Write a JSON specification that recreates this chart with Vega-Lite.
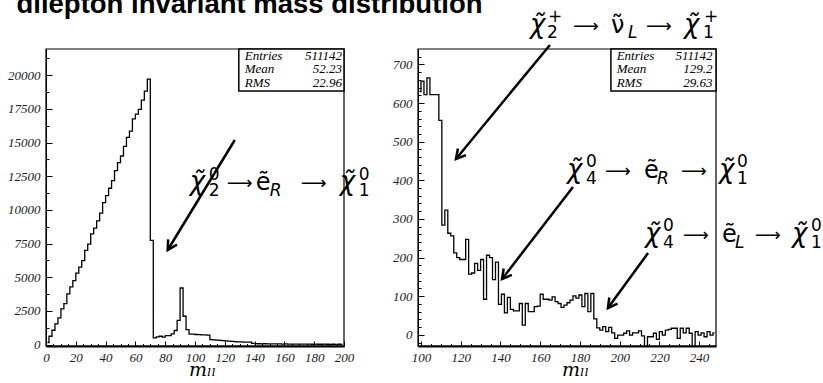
{
  "$schema": "https://vega.github.io/schema/vega-lite/v6.json",
  "autosize": {"type": "none"},
  "padding": {"left": 46, "top": 49, "right": 107, "bottom": 37},
  "width": 670,
  "height": 297,
  "background": "white",
  "config": {
    "view": {"stroke": null},
    "axis": {"grid": false, "labelFont": "Liberation Serif", "labelFontStyle": "italic", "labelFontSize": 13, "labelColor": "#222", "domainColor": "#000", "tickColor": "#000", "labelFlush": false, "labelOverlap": false},
    "style": {
      "chi": {"font": "DejaVu Sans", "fontSize": 26, "fontStyle": "italic", "fill": "#0000ff", "align": "left", "baseline": "alphabetic"},
      "big": {"font": "DejaVu Sans", "fontSize": 24, "fill": "#0000ff", "align": "left", "baseline": "alphabetic"},
      "arr": {"font": "DejaVu Sans", "fontSize": 18, "fill": "#0000ff", "align": "left", "baseline": "alphabetic"},
      "small": {"font": "DejaVu Sans", "fontSize": 17, "fill": "#0000ff", "align": "left", "baseline": "alphabetic"}
    }
  },
  "datasets": {
    "left": [
      {"m":1,"n":150},{"m":3,"n":615},{"m":5,"n":1060},{"m":7,"n":1530},{"m":9,"n":1975},{"m":11,"n":2645},{"m":13,"n":3040},{"m":15,"n":3755},{"m":17,"n":4275},{"m":19,"n":4740},
      {"m":21,"n":5310},{"m":23,"n":5755},{"m":25,"n":6225},{"m":27,"n":6990},{"m":29,"n":7460},{"m":31,"n":8225},{"m":33,"n":8645},{"m":35,"n":9190},{"m":37,"n":9760},{"m":39,"n":10545},
      {"m":41,"n":11065},{"m":43,"n":11610},{"m":45,"n":12175},{"m":47,"n":12915},{"m":49,"n":13510},{"m":51,"n":14005},{"m":53,"n":14725},{"m":55,"n":15390},{"m":57,"n":15855},{"m":59,"n":16770},
      {"m":61,"n":17115},{"m":63,"n":17465},{"m":65,"n":18155},{"m":67,"n":18820},{"m":69,"n":19710},{"m":71,"n":7730},{"m":73,"n":495},{"m":75,"n":570},{"m":77,"n":615},{"m":79,"n":545},
      {"m":81,"n":665},{"m":83,"n":665},{"m":85,"n":790},{"m":87,"n":1040},{"m":89,"n":1800},{"m":91,"n":4200},{"m":93,"n":2100},{"m":95,"n":1110},{"m":97,"n":765},{"m":99,"n":765},
      {"m":101,"n":745},{"m":103,"n":740},{"m":105,"n":720},{"m":107,"n":715},{"m":109,"n":690},{"m":111,"n":370},{"m":113,"n":340},{"m":115,"n":320},{"m":117,"n":300},{"m":119,"n":285},
      {"m":121,"n":265},{"m":123,"n":250},{"m":125,"n":235},{"m":127,"n":215},{"m":129,"n":200},{"m":131,"n":190},{"m":133,"n":180},{"m":135,"n":175},{"m":137,"n":170},{"m":139,"n":90},
      {"m":141,"n":60},{"m":143,"n":55},{"m":145,"n":50},{"m":147,"n":55},{"m":149,"n":45},{"m":151,"n":50},{"m":153,"n":40},{"m":155,"n":45},{"m":157,"n":40},{"m":159,"n":35},
      {"m":161,"n":40},{"m":163,"n":35},{"m":165,"n":30},{"m":167,"n":35},{"m":169,"n":30},{"m":171,"n":30},{"m":173,"n":25},{"m":175,"n":30},{"m":177,"n":25},{"m":179,"n":20},
      {"m":181,"n":25},{"m":183,"n":20},{"m":185,"n":20},{"m":187,"n":25},{"m":189,"n":20},{"m":191,"n":15},{"m":193,"n":20},{"m":195,"n":15},{"m":197,"n":20},{"m":199,"n":10}
    ],
    "right": [
      {"m":99.25,"n":630},{"m":100.75,"n":657},{"m":102.25,"n":622},{"m":103.75,"n":665},{"m":105.25,"n":622},{"m":106.75,"n":622},{"m":108.25,"n":622},{"m":109.75,"n":555},{"m":111.25,"n":284},{"m":112.75,"n":323},
      {"m":114.25,"n":263},{"m":115.75,"n":256},{"m":117.25,"n":212},{"m":118.75,"n":200},{"m":120.25,"n":195},{"m":121.75,"n":195},{"m":123.25,"n":247},{"m":124.75,"n":157},{"m":126.25,"n":160},{"m":127.75,"n":185},
      {"m":129.25,"n":167},{"m":130.75,"n":195},{"m":132.25,"n":92},{"m":133.75,"n":206},{"m":135.25,"n":200},{"m":136.75,"n":143},{"m":138.25,"n":188},{"m":139.75,"n":79},{"m":141.25,"n":105},{"m":142.75,"n":57},
      {"m":144.25,"n":97},{"m":145.75,"n":66},{"m":147.25,"n":62},{"m":148.75,"n":62},{"m":150.25,"n":81},{"m":151.75,"n":25},{"m":153.25,"n":81},{"m":154.75,"n":60},{"m":156.25,"n":60},{"m":157.75,"n":73},
      {"m":159.25,"n":74},{"m":160.75,"n":105},{"m":162.25,"n":92},{"m":163.75,"n":92},{"m":165.25,"n":90},{"m":166.75,"n":98},{"m":168.25,"n":86},{"m":169.75,"n":81},{"m":171.25,"n":71},{"m":172.75,"n":77},
      {"m":174.25,"n":83},{"m":175.75,"n":90},{"m":177.25,"n":101},{"m":178.75,"n":95},{"m":180.25,"n":103},{"m":181.75,"n":73},{"m":183.25,"n":107},{"m":184.75,"n":60},{"m":186.25,"n":107},{"m":187.75,"n":41},
      {"m":189.25,"n":18},{"m":190.75,"n":12},{"m":192.25,"n":21},{"m":193.75,"n":8},{"m":195.25,"n":19},{"m":196.75,"n":5},{"m":198.25,"n":-9},{"m":199.75,"n":-1},{"m":201.25,"n":-1},{"m":202.75,"n":4},
      {"m":204.25,"n":10},{"m":205.75,"n":-1},{"m":207.25,"n":5},{"m":208.75,"n":5},{"m":210.25,"n":10},{"m":211.75,"n":-3},{"m":213.25,"n":-40},{"m":214.75,"n":-5},{"m":216.25,"n":-5},{"m":217.75,"n":4},
      {"m":219.25,"n":-12},{"m":220.75,"n":8},{"m":222.25,"n":-1},{"m":223.75,"n":12},{"m":225.25,"n":14},{"m":226.75,"n":17},{"m":228.25,"n":17},{"m":229.75,"n":-9},{"m":231.25,"n":17},{"m":232.75,"n":5},
      {"m":234.25,"n":17},{"m":235.75,"n":4},{"m":237.25,"n":-40},{"m":238.75,"n":8},{"m":240.25,"n":-1},{"m":241.75,"n":5},{"m":243.25,"n":-5},{"m":244.75,"n":8},{"m":246.25,"n":-1},{"m":247.75,"n":5}
    ]
  },
  "resolve": {"scale": {"x": "independent", "y": "independent"}, "axis": {"x": "independent", "y": "independent"}},
  "layer": [
    {
      "resolve": {"axis": {"x": "independent", "y": "independent"}},
      "layer": [
        {
          "data": {"name": "left"},
          "mark": {"type": "line", "interpolate": "step", "color": "#000", "strokeWidth": 1.3},
          "encoding": {
            "x": {"field": "m", "type": "quantitative", "scale": {"domain": [0, 200], "range": [0, 298], "nice": false, "zero": false},
                  "axis": {"orient": "bottom", "values": [0,20,40,60,80,100,120,140,160,180,200], "tickSize": -5, "labelPadding": 10.5, "domainWidth": 2, "title": "mₗₗ", "titleFont": "DejaVu Serif", "titleFontStyle": "italic", "titleFontWeight": "normal", "titleFontSize": 19, "titleColor": "#000", "titleX": 156, "titleY": 29, "titleBaseline": "alphabetic", "titleAlign": "center"}},
            "y": {"field": "n", "type": "quantitative", "scale": {"domain": [-111, 21955], "nice": false, "zero": false},
                  "axis": {"orient": "left", "values": [0,2500,5000,7500,10000,12500,15000,17500,20000], "tickSize": -6, "labelPadding": 12, "title": null, "format": "d"}}
          }
        },
        {
          "data": {"values": [{}]},
          "mark": {"type": "rect", "fill": null, "stroke": "#000", "strokeWidth": 1.2},
          "encoding": {
            "x": {"datum": 0, "type": "quantitative", "axis": {"orient": "bottom", "labels": false, "domain": false, "title": null, "tickSize": -2.5, "values": [0,5,10,15,20,25,30,35,40,45,50,55,60,65,70,75,80,85,90,95,100,105,110,115,120,125,130,135,140,145,150,155,160,165,170,175,180,185,190,195,200]}},
            "x2": {"datum": 200},
            "y": {"datum": -111, "type": "quantitative", "axis": {"orient": "left", "labels": false, "domain": false, "title": null, "tickSize": -3, "values": [0,1250,2500,3750,5000,6250,7500,8750,10000,11250,12500,13750,15000,16250,17500,18750,20000,21250]}},
            "y2": {"datum": 21955}
          }
        },
        {
          "data": {"values": [{}]},
          "mark": {"type": "text", "text": "dilepton invariant mass distribution", "font": "Liberation Sans", "fontSize": 27.5, "fontWeight": "bold", "align": "left", "baseline": "alphabetic", "fill": "#000"},
          "encoding": {"x": {"datum": -19.8, "type": "quantitative", "axis": null}, "y": {"datum": 24630, "type": "quantitative", "axis": null}}
        },
        {
          "data": {"values": [{}]},
          "mark": {"type": "rect", "fill": "#fff", "stroke": "#000", "strokeWidth": 1.5},
          "encoding": {"x": {"datum": 129.4, "type": "quantitative", "axis": null}, "x2": {"datum": 200}, "y": {"datum": 21955, "type": "quantitative", "axis": null}, "y2": {"datum": 18835}}
        },
        {
          "data": {"values": [{}]},
          "mark": {"type": "text", "text": ["Entries", "Mean", "RMS"], "align": "left", "baseline": "alphabetic", "font": "Liberation Serif", "fontStyle": "italic", "fontSize": 13, "lineHeight": 13.3, "fill": "#000"},
          "encoding": {"x": {"datum": 133.4, "type": "quantitative", "axis": null}, "y": {"datum": 21138, "type": "quantitative", "axis": null}}
        },
        {
          "data": {"values": [{}]},
          "mark": {"type": "text", "text": ["511142", "52.23", "22.96"], "align": "right", "baseline": "alphabetic", "font": "Liberation Serif", "fontStyle": "italic", "fontSize": 13, "lineHeight": 13.3, "fill": "#000"},
          "encoding": {"x": {"datum": 198.7, "type": "quantitative", "axis": null}, "y": {"datum": 21138, "type": "quantitative", "axis": null}}
        },
        {
          "data": {"values": [{}]},
          "mark": {"type": "rule", "color": "#000", "strokeWidth": 2.5},
          "encoding": {"x": {"datum": 126.7, "type": "quantitative", "axis": null}, "y": {"datum": 15194, "type": "quantitative", "axis": null}, "x2": {"datum": 81.7}, "y2": {"datum": 7021}}
        },
        {
          "data": {"values": [{}]},
          "mark": {"type": "point", "shape": "M-0.55,1L0,0L0.55,1", "filled": false, "stroke": "#000", "strokeWidth": 2.5, "size": 350, "angle": 211, "opacity": 1},
          "encoding": {"x": {"datum": 81.7, "type": "quantitative", "axis": null}, "y": {"datum": 7021, "type": "quantitative", "axis": null}}
        },
        {
          "data": {"values": [{}]},
          "encoding": {"x": {"datum": 96.5, "type": "quantitative", "axis": null}, "y": {"datum": 11479, "type": "quantitative", "axis": null}},
          "layer": [
            {"mark": {"type": "text", "style": "chi", "text": "χ̃"}},
            {"mark": {"type": "text", "style": "small", "text": "0", "dx": 19, "dy": -10}},
            {"mark": {"type": "text", "style": "small", "text": "2", "dx": 19, "dy": 6}},
            {"mark": {"type": "text", "style": "arr", "text": "⟶", "dx": 37, "dy": -1}},
            {"mark": {"type": "text", "style": "big", "text": "ẽ", "dx": 66}},
            {"mark": {"type": "text", "style": "small", "text": "R", "dx": 80, "dy": 6, "fontStyle": "italic"}},
            {"mark": {"type": "text", "style": "arr", "text": "⟶", "dx": 111, "dy": -1}},
            {"mark": {"type": "text", "style": "chi", "text": "χ̃", "dx": 150}},
            {"mark": {"type": "text", "style": "small", "text": "0", "dx": 169, "dy": -10}},
            {"mark": {"type": "text", "style": "small", "text": "1", "dx": 169, "dy": 6}}
          ]
        }
      ]
    },
    {
      "resolve": {"axis": {"x": "independent", "y": "independent"}},
      "layer": [
        {
          "data": {"name": "right"},
          "mark": {"type": "line", "interpolate": "step", "color": "#000", "strokeWidth": 1.3, "clip": true},
          "encoding": {
            "x": {"field": "m", "type": "quantitative", "scale": {"domain": [98.5, 248.5], "range": [372, 670], "nice": false, "zero": false},
                  "axis": {"orient": "bottom", "values": [100,120,140,160,180,200,220,240], "tickSize": -5, "labelPadding": 10.5, "domainWidth": 2, "title": "mₗₗ", "titleFont": "DejaVu Serif", "titleFontStyle": "italic", "titleFontWeight": "normal", "titleFontSize": 19, "titleColor": "#000", "titleX": 529, "titleY": 29, "titleBaseline": "alphabetic", "titleAlign": "center"}},
            "y": {"field": "n", "type": "quantitative", "scale": {"domain": [-29, 740], "nice": false, "zero": false},
                  "axis": {"orient": "left", "offset": -372, "values": [0,100,200,300,400,500,600,700], "tickSize": -6, "labelPadding": 12, "title": null, "format": "d"}}
          }
        },
        {
          "data": {"values": [{}]},
          "mark": {"type": "rect", "fill": null, "stroke": "#000", "strokeWidth": 1.2},
          "encoding": {
            "x": {"datum": 98.5, "type": "quantitative", "axis": {"orient": "bottom", "labels": false, "domain": false, "title": null, "tickSize": -2.5, "values": [100,105,110,115,120,125,130,135,140,145,150,155,160,165,170,175,180,185,190,195,200,205,210,215,220,225,230,235,240,245]}},
            "x2": {"datum": 248.5},
            "y": {"datum": -29, "type": "quantitative", "axis": {"orient": "left", "offset": -372, "labels": false, "domain": false, "title": null, "tickSize": -3, "values": [-20,0,20,40,60,80,100,120,140,160,180,200,220,240,260,280,300,320,340,360,380,400,420,440,460,480,500,520,540,560,580,600,620,640,660,680,700,720]}},
            "y2": {"datum": 740}
          }
        },
        {
          "data": {"values": [{}]},
          "mark": {"type": "rect", "fill": "#fff", "stroke": "#000", "strokeWidth": 1.5},
          "encoding": {"x": {"datum": 195.6, "type": "quantitative", "axis": null}, "x2": {"datum": 248.5}, "y": {"datum": 740, "type": "quantitative", "axis": null}, "y2": {"datum": 631}}
        },
        {
          "data": {"values": [{}]},
          "mark": {"type": "text", "text": ["Entries", "Mean", "RMS"], "align": "left", "baseline": "alphabetic", "font": "Liberation Serif", "fontStyle": "italic", "fontSize": 13, "lineHeight": 13.3, "fill": "#000"},
          "encoding": {"x": {"datum": 198.5, "type": "quantitative", "axis": null}, "y": {"datum": 711.7, "type": "quantitative", "axis": null}}
        },
        {
          "data": {"values": [{}]},
          "mark": {"type": "text", "text": ["511142", "129.2", "29.63"], "align": "right", "baseline": "alphabetic", "font": "Liberation Serif", "fontStyle": "italic", "fontSize": 13, "lineHeight": 13.3, "fill": "#000"},
          "encoding": {"x": {"datum": 246.8, "type": "quantitative", "axis": null}, "y": {"datum": 711.7, "type": "quantitative", "axis": null}}
        },
        {
          "data": {"values": [{}]},
          "mark": {"type": "rule", "color": "#000", "strokeWidth": 2.5},
          "encoding": {"x": {"datum": 164.9, "type": "quantitative", "axis": null}, "y": {"datum": 750.5, "type": "quantitative", "axis": null}, "x2": {"datum": 117.6}, "y2": {"datum": 455.2}}
        },
        {
          "data": {"values": [{}]},
          "mark": {"type": "point", "shape": "M-0.55,1L0,0L0.55,1", "filled": false, "stroke": "#000", "strokeWidth": 2.5, "size": 350, "angle": 219.5, "opacity": 1},
          "encoding": {"x": {"datum": 117.6, "type": "quantitative", "axis": null}, "y": {"datum": 455.2, "type": "quantitative", "axis": null}}
        },
        {
          "data": {"values": [{}]},
          "mark": {"type": "rule", "color": "#000", "strokeWidth": 2.5},
          "encoding": {"x": {"datum": 176.5, "type": "quantitative", "axis": null}, "y": {"datum": 382.6, "type": "quantitative", "axis": null}, "x2": {"datum": 140.8}, "y2": {"datum": 144.3}}
        },
        {
          "data": {"values": [{}]},
          "mark": {"type": "point", "shape": "M-0.55,1L0,0L0.55,1", "filled": false, "stroke": "#000", "strokeWidth": 2.5, "size": 350, "angle": 217.7, "opacity": 1},
          "encoding": {"x": {"datum": 140.8, "type": "quantitative", "axis": null}, "y": {"datum": 144.3, "type": "quantitative", "axis": null}}
        },
        {
          "data": {"values": [{}]},
          "mark": {"type": "rule", "color": "#000", "strokeWidth": 2.5},
          "encoding": {"x": {"datum": 214.3, "type": "quantitative", "axis": null}, "y": {"datum": 211.7, "type": "quantitative", "axis": null}, "x2": {"datum": 194.1}, "y2": {"datum": 69.2}}
        },
        {
          "data": {"values": [{}]},
          "mark": {"type": "point", "shape": "M-0.55,1L0,0L0.55,1", "filled": false, "stroke": "#000", "strokeWidth": 2.5, "size": 350, "angle": 216, "opacity": 1},
          "encoding": {"x": {"datum": 194.1, "type": "quantitative", "axis": null}, "y": {"datum": 69.2, "type": "quantitative", "axis": null}}
        },
        {
          "data": {"values": [{}]},
          "encoding": {"x": {"datum": 154.9, "type": "quantitative", "axis": null}, "y": {"datum": 781.6, "type": "quantitative", "axis": null}},
          "layer": [
            {"mark": {"type": "text", "style": "chi", "text": "χ̃"}},
            {"mark": {"type": "text", "style": "small", "text": "+", "dx": 18, "dy": -11}},
            {"mark": {"type": "text", "style": "small", "text": "2", "dx": 17, "dy": 5}},
            {"mark": {"type": "text", "style": "arr", "text": "⟶", "dx": 43, "dy": -1}},
            {"mark": {"type": "text", "style": "big", "text": "ν̃", "dx": 81}},
            {"mark": {"type": "text", "style": "small", "text": "L", "dx": 98, "dy": 5, "fontStyle": "italic"}},
            {"mark": {"type": "text", "style": "arr", "text": "⟶", "dx": 116, "dy": -1}},
            {"mark": {"type": "text", "style": "chi", "text": "χ̃", "dx": 154}},
            {"mark": {"type": "text", "style": "small", "text": "+", "dx": 174, "dy": -11}},
            {"mark": {"type": "text", "style": "small", "text": "1", "dx": 173, "dy": 5}}
          ]
        },
        {
          "data": {"values": [{}]},
          "encoding": {"x": {"datum": 173.5, "type": "quantitative", "axis": null}, "y": {"datum": 404.7, "type": "quantitative", "axis": null}},
          "layer": [
            {"mark": {"type": "text", "style": "chi", "text": "χ̃"}},
            {"mark": {"type": "text", "style": "small", "text": "0", "dx": 19, "dy": -11}},
            {"mark": {"type": "text", "style": "small", "text": "4", "dx": 19, "dy": 6}},
            {"mark": {"type": "text", "style": "arr", "text": "⟶", "dx": 38, "dy": -1}},
            {"mark": {"type": "text", "style": "big", "text": "ẽ", "dx": 77}},
            {"mark": {"type": "text", "style": "small", "text": "R", "dx": 90, "dy": 6, "fontStyle": "italic"}},
            {"mark": {"type": "text", "style": "arr", "text": "⟶", "dx": 114, "dy": -1}},
            {"mark": {"type": "text", "style": "chi", "text": "χ̃", "dx": 152}},
            {"mark": {"type": "text", "style": "small", "text": "0", "dx": 170, "dy": -11}},
            {"mark": {"type": "text", "style": "small", "text": "1", "dx": 170, "dy": 6}}
          ]
        },
        {
          "data": {"values": [{}]},
          "encoding": {"x": {"datum": 212.7, "type": "quantitative", "axis": null}, "y": {"datum": 240.9, "type": "quantitative", "axis": null}},
          "layer": [
            {"mark": {"type": "text", "style": "chi", "text": "χ̃"}},
            {"mark": {"type": "text", "style": "small", "text": "0", "dx": 18, "dy": -11}},
            {"mark": {"type": "text", "style": "small", "text": "4", "dx": 18, "dy": 6}},
            {"mark": {"type": "text", "style": "arr", "text": "⟶", "dx": 38, "dy": -1}},
            {"mark": {"type": "text", "style": "big", "text": "ẽ", "dx": 77}},
            {"mark": {"type": "text", "style": "small", "text": "L", "dx": 90, "dy": 6, "fontStyle": "italic"}},
            {"mark": {"type": "text", "style": "arr", "text": "⟶", "dx": 110, "dy": -1}},
            {"mark": {"type": "text", "style": "chi", "text": "χ̃", "dx": 147}},
            {"mark": {"type": "text", "style": "small", "text": "0", "dx": 166, "dy": -11}},
            {"mark": {"type": "text", "style": "small", "text": "1", "dx": 166, "dy": 6}}
          ]
        }
      ]
    }
  ]
}
